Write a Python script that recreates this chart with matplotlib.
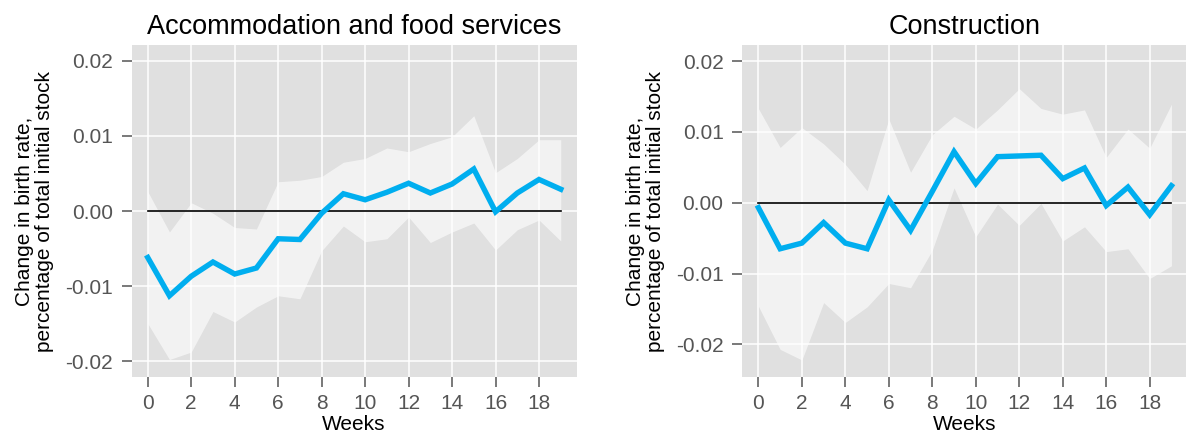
import matplotlib.pyplot as plt
import numpy as np

plt.rcParams['font.family'] = ['Liberation Sans', 'DejaVu Sans']

weeks = np.arange(20)

# Accommodation and food services
acc_est = [-0.0062, -0.0113, -0.0087, -0.0068, -0.0084, -0.0076, -0.0037, -0.0038,
           -0.0003, 0.0023, 0.0015, 0.0025, 0.0037, 0.0024, 0.0036, 0.0056,
           -0.0001, 0.0024, 0.0042, 0.0029]
acc_hi = [0.0026, -0.0028, 0.0011, -0.0003, -0.0022, -0.0024, 0.0039, 0.0041,
          0.0046, 0.0065, 0.0070, 0.0084, 0.0079, 0.0090, 0.0099, 0.0127,
          0.0051, 0.0070, 0.0095, 0.0095]
acc_lo = [-0.0150, -0.0198, -0.0188, -0.0134, -0.0148, -0.0128, -0.0113, -0.0117,
          -0.0053, -0.0020, -0.0041, -0.0037, -0.0008, -0.0042, -0.0028, -0.0016,
          -0.0052, -0.0025, -0.0012, -0.0040]

# Construction
con_est = [-0.0007, -0.0065, -0.0057, -0.0028, -0.0057, -0.0065, 0.0004, -0.0039,
           0.0016, 0.0072, 0.0027, 0.0065, 0.0066, 0.0067, 0.0034, 0.0049,
           -0.0004, 0.0022, -0.0017, 0.0024]
con_hi = [0.0133, 0.0078, 0.0106, 0.0083, 0.0054, 0.0017, 0.0118, 0.0043,
          0.0096, 0.0122, 0.0104, 0.0131, 0.0161, 0.0133, 0.0125, 0.0131,
          0.0064, 0.0104, 0.0077, 0.0139]
con_lo = [-0.0146, -0.0207, -0.0222, -0.0141, -0.0169, -0.0147, -0.0114, -0.0120,
          -0.0067, 0.0021, -0.0048, -0.0002, -0.0032, -0.0001, -0.0054, -0.0034,
          -0.0069, -0.0065, -0.0107, -0.0089]

yticks = [-0.02, -0.01, 0.0, 0.01, 0.02]
ytick_labels = ['-0.02', '-0.01', '0.00', '0.01', '0.02']
xticks = np.arange(0, 19, 2)

panels = [
    ('Accommodation and food services', acc_est, acc_lo, acc_hi, (-0.02213, 0.02213), 0.1110),
    ('Construction', con_est, con_lo, con_hi, (-0.0246, 0.02226), 0.6259),
]

fig = plt.figure(figsize=(11.86, 4.40), dpi=100)

for title, est, lo, hi, ylim, left in panels:
    ax = fig.add_axes([left, 0.1432, 0.3752, 0.7545])
    ax.set_facecolor('#e0e0e0')
    # confidence band, zero reference and point estimates
    ax.fill_between(weeks, lo, hi, color='white', alpha=0.6, linewidth=0, zorder=2)
    ax.plot([weeks[0], weeks[-1]], [0, 0], color='black', lw=1.2, zorder=3)
    ax.plot(weeks, est, color='#00aeef', lw=3.9, zorder=4, solid_joinstyle='miter')

    ax.set_xlim(-0.74, 19.73)
    ax.set_ylim(*ylim)
    ax.set_xticks(xticks)
    ax.set_yticks(yticks)
    ax.set_yticklabels(ytick_labels)
    ax.grid(True, color='white', lw=1.1)
    ax.set_axisbelow(True)
    for s in ax.spines.values():
        s.set_visible(False)
    ax.tick_params(axis='both', colors='#555555', labelsize=15, length=7.5, width=1.1,
                   direction='out')
    ax.tick_params(axis='x', pad=5)
    ax.tick_params(axis='y', pad=6)

    ax.set_title(title, fontsize=19.5, pad=8)
    ax.set_xlabel('Weeks', fontsize=15, labelpad=1)
    ax.set_ylabel('Change in birth rate,\npercentage of total initial stock',
                  fontsize=15, labelpad=8, linespacing=1.05)

fig.savefig('out.png', dpi=100)
